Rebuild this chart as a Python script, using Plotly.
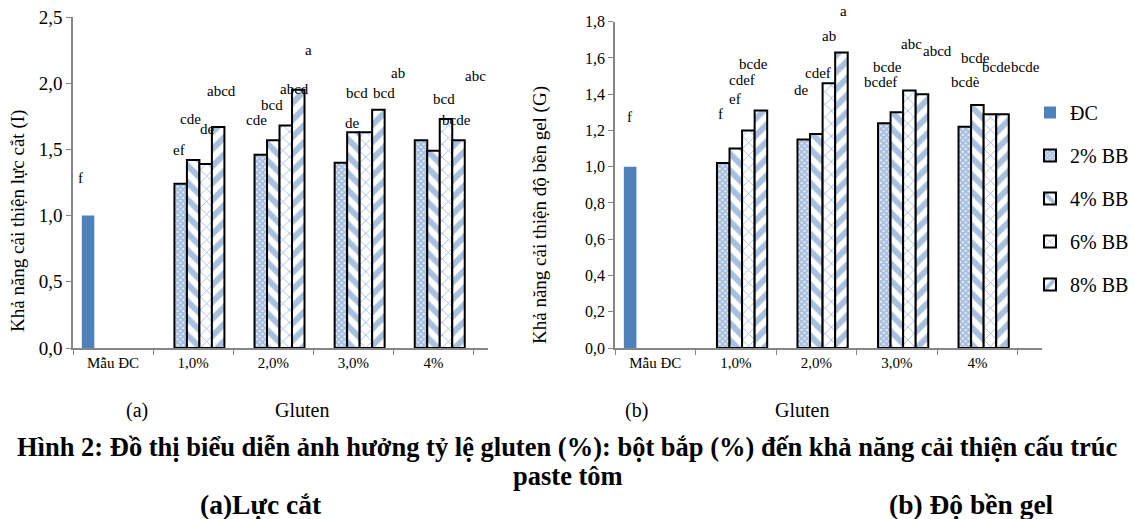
import plotly.graph_objects as go

# ---------------- data ----------------
categories = ["Mẫu ĐC", "1,0%", "2,0%", "3,0%", "4%"]
series_names = ["ĐC", "2% BB", "4% BB", "6% BB", "8% BB"]

# (a) shear force improvement I
control_I = 1.00
I_2 = [1.24, 1.46, 1.40, 1.57]
I_4 = [1.42, 1.57, 1.63, 1.49]
I_6 = [1.39, 1.68, 1.63, 1.73]
I_8 = [1.67, 1.95, 1.80, 1.57]

# (b) gel strength improvement G
control_G = 1.00
G_2 = [1.02, 1.15, 1.24, 1.22]
G_4 = [1.10, 1.18, 1.30, 1.34]
G_6 = [1.20, 1.46, 1.42, 1.29]
G_8 = [1.31, 1.63, 1.40, 1.29]

# significance letters
lab_I_ctrl = "f"
lab_I_2 = ["ef", "cde", "de", ""]
lab_I_4 = ["cde", "bcd", "bcd", "bcd"]
lab_I_6 = ["de", "abcd", "bcd", "bcde"]
lab_I_8 = ["abcd", "a", "ab", "abc"]

lab_G_ctrl = "f"
lab_G_2 = ["f", "de", "bcdef", "bcdè"]
lab_G_4 = ["ef", "cdef", "bcde", "bcde"]
lab_G_6 = ["cdef", "ab", "abc", "bcde"]
lab_G_8 = ["bcde", "a", "abcd", "bcde"]

# label nudges in pixels (dx, dy-up) relative to each bar top
nud_I_ctrl = (-8, 38)
nud_I = [
    [(-2, 34), (-4, 35), (12, 40), (0, 0)],
    [(-3, 41), (-1, 35), (4, 39), (10, 52)],
    [(2, 35), (9, 37), (18, 39), (10, -1)],
    [(3, 36), (10, 40), (20, 37), (17, 64)],
]
nud_G_ctrl = (-1, 50)
nud_G = [
    [(-3, 49), (-2, 50), (-4, 41), (1, 45)],
    [(-1, 50), (2, 61), (-9, 45), (-2, 47)],
    [(-6, 50), (0, 47), (2, 47), (7, 47)],
    [(-7, 47), (2, 42), (16, 43), (23, 47)],
]

# ---------------- style ----------------
FONT = "Liberation Serif"
BLUE = "#4F81BD"
AXIS = "#868686"
BARGAP = 0.22
patterns = [
    dict(shape="x", size=4, solidity=0.8),
    dict(shape="\\", size=12, solidity=0.5),
    dict(shape="x", size=9, solidity=0.2),
    dict(shape="/", size=12, solidity=0.5),
]

fig = go.Figure()


def add_panel(xa, ya, ctrl, series, show_legend):
    fig.add_trace(go.Bar(
        x=categories, y=[ctrl, None, None, None, None], name=series_names[0],
        marker=dict(color=BLUE, line=dict(width=0)), xaxis=xa, yaxis=ya,
        showlegend=show_legend, legendgroup="g0",
    ))
    for k, vals in enumerate(series):
        p = patterns[k]
        fig.add_trace(go.Bar(
            x=categories, y=[None] + vals, name=series_names[k + 1],
            marker=dict(color="white", line=dict(color="black", width=2),
                        pattern=dict(shape=p["shape"], size=p["size"],
                                     solidity=p["solidity"], fgcolor=BLUE,
                                     bgcolor="white", fillmode="overlay")),
            xaxis=xa, yaxis=ya, showlegend=show_legend, legendgroup="g%d" % (k + 1),
        ))


add_panel("x", "y", control_I, [I_2, I_4, I_6, I_8], False)
add_panel("x2", "y2", control_G, [G_2, G_4, G_6, G_8], True)

bw = (1 - BARGAP) / 5


def bar_x(cat, slot):
    return cat + (slot - 2) * bw


annotations = []
LABFONT = dict(family=FONT, size=15, color="black")


def add_labels(xref, yref, ctrl, lab_ctrl, nud_ctrl, series, labs, nuds):
    annotations.append(dict(x=bar_x(0, 0), y=ctrl, xref=xref, yref=yref, text=lab_ctrl,
                            xshift=nud_ctrl[0], yshift=nud_ctrl[1], showarrow=False,
                            xanchor="center", yanchor="middle", font=LABFONT))
    for k, vals in enumerate(series):
        for j, v in enumerate(vals):
            t = labs[k][j]
            if not t:
                continue
            dx, dy = nuds[k][j]
            annotations.append(dict(x=bar_x(j + 1, k + 1), y=v, xref=xref, yref=yref,
                                    text=t, xshift=dx, yshift=dy, showarrow=False,
                                    xanchor="center", yanchor="middle", font=LABFONT))


add_labels("x", "y", control_I, lab_I_ctrl, nud_I_ctrl, [I_2, I_4, I_6, I_8],
           [lab_I_2, lab_I_4, lab_I_6, lab_I_8], nud_I)
add_labels("x2", "y2", control_G, lab_G_ctrl, nud_G_ctrl, [G_2, G_4, G_6, G_8],
           [lab_G_2, lab_G_4, lab_G_6, lab_G_8], nud_G)

W, H = 1135, 519


def px(x):
    return x / W


def py(y):
    return 1 - y / H


def paper_text(x, y, text, size, angle=0):
    annotations.append(dict(x=px(x), y=py(y), xref="paper", yref="paper", text=text,
                            textangle=angle, showarrow=False, xanchor="center",
                            yanchor="middle", font=dict(family=FONT, size=size, color="black")))


# axis titles
paper_text(18, 221, "Khả năng cải thiện lực cắt (I)", 19, -90)
paper_text(540, 215, "Khả năng cải thiện độ bền gel (G)", 19, -90)
# bottom texts
paper_text(137, 410, "(a)", 20)
paper_text(302, 410, "Gluten", 20)
paper_text(636, 410, "(b)", 20)
paper_text(802, 410, "Gluten", 20)
paper_text(567.5, 447, "<b>Hình 2: Đồ thị biểu diễn ảnh hưởng tỷ lệ gluten (%): bột bắp (%) đến khả năng cải thiện cấu trúc</b>", 26.5)
paper_text(567.5, 476, "<b>paste tôm</b>", 26.5)
paper_text(261, 504, "<b>(a)Lực cắt</b>", 27.5)
paper_text(971, 504, "<b>(b) Độ bền gel</b>", 27.5)

xcommon = dict(type="category", showline=True, linecolor=AXIS, linewidth=1.5,
               ticks="outside", tickson="boundaries", tickcolor=AXIS, ticklen=5,
               showgrid=False, automargin=False,
               tickfont=dict(family=FONT, size=15, color="black"))
ycommon = dict(showline=True, linecolor=AXIS, linewidth=1.5, ticks="outside",
               tickcolor=AXIS, ticklen=5, showgrid=False, zeroline=False,
               automargin=False, tickformat=".1f")

fig.update_layout(
    width=W, height=H, autosize=False,
    margin=dict(l=0, r=0, t=0, b=0, pad=0, autoexpand=False),
    paper_bgcolor="white", plot_bgcolor="white",
    separators=",.",
    barmode="group", bargap=BARGAP, bargroupgap=0,
    xaxis=dict(domain=[px(73), px(488)], anchor="y", **xcommon),
    yaxis=dict(domain=[py(348), py(17)], anchor="x", range=[0, 2.5], dtick=0.5,
               tickfont=dict(family=FONT, size=19, color="black"), **ycommon),
    xaxis2=dict(domain=[px(615), px(1042)], anchor="y2", **xcommon),
    yaxis2=dict(domain=[py(348), py(21.7)], anchor="x2", range=[0, 1.8], dtick=0.2,
                tickfont=dict(family=FONT, size=16, color="black"), **ycommon),
    legend=dict(x=px(1030), y=py(93), xanchor="left", yanchor="top",
                font=dict(family=FONT, size=20, color="black"),
                traceorder="grouped", tracegroupgap=14, itemwidth=30,
                bgcolor="rgba(0,0,0,0)"),
    annotations=annotations,
    showlegend=True,
)

fig.write_html("out.html", config={"displayModeBar": False},
               post_script="document.body.style.margin='0px';")
